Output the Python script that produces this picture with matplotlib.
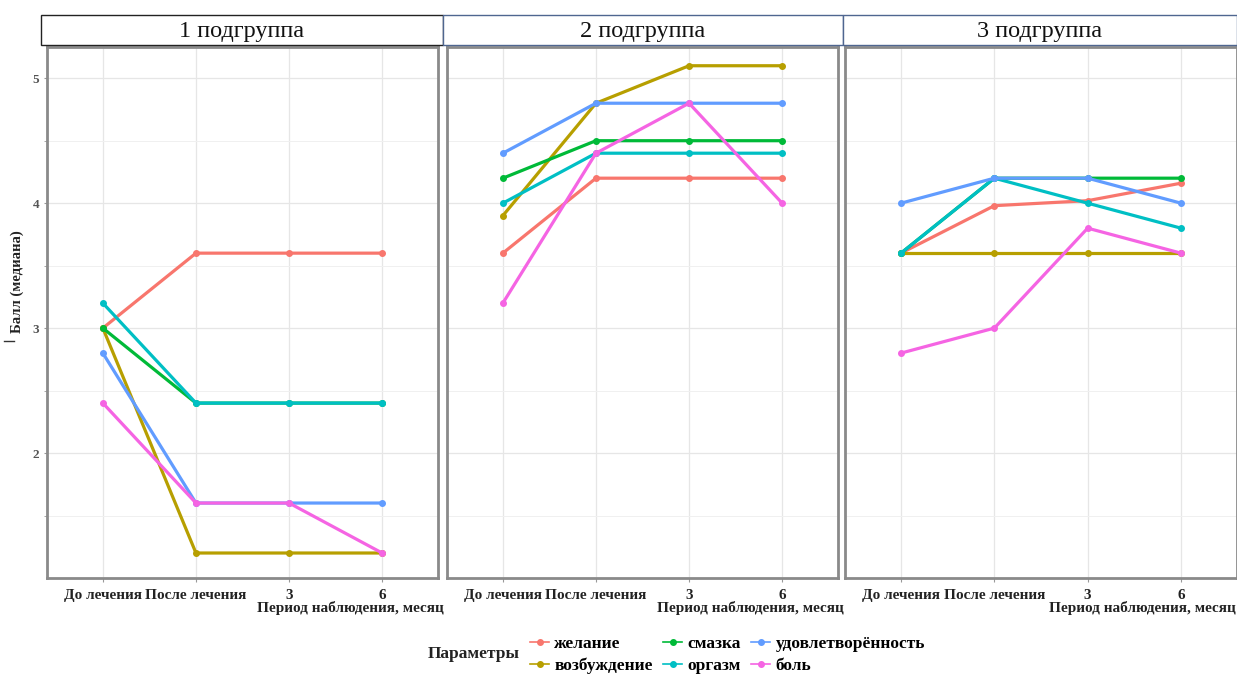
import matplotlib
matplotlib.use("Agg")
import matplotlib.pyplot as plt
from matplotlib.patches import Rectangle
from matplotlib.lines import Line2D

plt.rcParams['font.family'] = ['Liberation Serif', 'DejaVu Serif']

# Observation periods
periods = ["До лечения", "После лечения", "3", "6"]
subgroups = ["1 подгруппа", "2 подгруппа", "3 подгруппа"]
params = ["желание", "возбуждение", "смазка", "оргазм", "удовлетворённость", "боль"]
colors = ["#F8766D", "#B79F00", "#00BA38", "#00BFC4", "#619CFF", "#F564E3"]

# Median scores per subgroup, one list per parameter
g1_zhelanie = [3.0, 3.6, 3.6, 3.6]
g1_vozbuzhdenie = [3.0, 1.2, 1.2, 1.2]
g1_smazka = [3.0, 2.4, 2.4, 2.4]
g1_orgazm = [3.2, 2.4, 2.4, 2.4]
g1_udovl = [2.8, 1.6, 1.6, 1.6]
g1_bol = [2.4, 1.6, 1.6, 1.2]

g2_zhelanie = [3.6, 4.2, 4.2, 4.2]
g2_vozbuzhdenie = [3.9, 4.8, 5.1, 5.1]
g2_smazka = [4.2, 4.5, 4.5, 4.5]
g2_orgazm = [4.0, 4.4, 4.4, 4.4]
g2_udovl = [4.4, 4.8, 4.8, 4.8]
g2_bol = [3.2, 4.4, 4.8, 4.0]

g3_zhelanie = [3.6, 3.98, 4.02, 4.16]
g3_vozbuzhdenie = [3.6, 3.6, 3.6, 3.6]
g3_smazka = [3.6, 4.2, 4.2, 4.2]
g3_orgazm = [3.6, 4.2, 4.0, 3.8]
g3_udovl = [4.0, 4.2, 4.2, 4.0]
g3_bol = [2.8, 3.0, 3.8, 3.6]

groups = [
    [g1_zhelanie, g1_vozbuzhdenie, g1_smazka, g1_orgazm, g1_udovl, g1_bol],
    [g2_zhelanie, g2_vozbuzhdenie, g2_smazka, g2_orgazm, g2_udovl, g2_bol],
    [g3_zhelanie, g3_vozbuzhdenie, g3_smazka, g3_orgazm, g3_udovl, g3_bol],
]

W, H = 1237, 677
fig = plt.figure(figsize=(W / 100, H / 100), dpi=100)

def fx(px):
    return px / W

def fy(py):
    return 1 - py / H

axes_px = [(47, 438), (447, 838), (845, 1237)]
strip_px = [(41, 443), (443, 843), (843, 1237)]
top_px, bot_px = 47, 578

xs = list(range(len(periods)))
for i, (l, r) in enumerate(axes_px):
    ax = fig.add_axes([fx(l), fy(bot_px), fx(r - l), (bot_px - top_px) / H])
    for vals, c in zip(groups[i], colors):
        ax.plot(xs, vals, color=c, lw=2.3, marker="o", ms=4, zorder=3,
                solid_capstyle="round")
    ax.set_xlim(-0.6, 3.6)
    ax.set_ylim(1.0, 5.25)
    ax.set_yticks([2, 3, 4, 5])
    ax.set_yticks([1.5, 2.5, 3.5, 4.5], minor=True)
    ax.set_xticks(xs)
    ax.set_xticklabels(periods, fontsize=11, fontweight="bold", color="#222222")
    ax.grid(True, which="major", color="#e6e6e6", lw=0.9)
    ax.grid(True, which="minor", axis="y", color="#f0f0f0", lw=0.7)
    ax.set_axisbelow(True)
    ax.tick_params(axis="x", length=3, color="#999999", pad=5)
    ax.tick_params(axis="y", which="both", length=2, color="#999999")
    if i == 0:
        ax.set_yticklabels(["2", "3", "4", "5"], fontsize=9.5, fontweight="bold",
                           color="#555555")
    else:
        ax.tick_params(axis="y", which="both", labelleft=False, length=0)
    for s in ax.spines.values():
        s.set_color("#8a8a8a")
        s.set_linewidth(2.0)
    # x-axis title, right aligned under each panel
    fig.text(fx(min(r + 6, 1236)), fy(608), "Период наблюдения, месяц", ha="right",
             va="center", fontsize=11, fontweight="bold", color="#222222")

# Strip headers
for i, (l, r) in enumerate(strip_px):
    ec = "#222222" if i == 0 else "#4f6690"
    rect = Rectangle((fx(l), fy(45)), fx(r - l), (45 - 15) / H,
                     transform=fig.transFigure, facecolor="white",
                     edgecolor=ec, lw=1.0, clip_on=False)
    fig.add_artist(rect)
    fig.text(fx((l + r) / 2), fy(31), subgroups[i], ha="center", va="center",
             fontsize=17.5, color="#111111")

# y-axis title
fig.text(fx(17), fy(282), "Балл (медиана)", rotation=90, ha="center", va="center",
         fontsize=10.5, fontweight="bold", color="#222222")
fig.add_artist(Line2D([fx(4), fx(14)], [fy(341), fy(341)], color="#333333", lw=1.0,
                      transform=fig.transFigure))

# Legend
handles = [Line2D([0], [0], color=c, marker="o", ms=4, lw=1.2) for c in colors]
fig.text(fx(474), fy(654), "Параметры", ha="center", va="center", fontsize=12.5,
         fontweight="bold", color="#222222")
fig.legend(handles, params, ncol=3, loc="center left",
           bbox_to_anchor=(fx(530), fy(655)), frameon=False,
           prop={"size": 12.5, "weight": "bold"}, handlelength=1.1,
           handletextpad=0.3, columnspacing=0.6, labelspacing=0.3,
           borderaxespad=0, borderpad=0)

fig.savefig("out.png", dpi=100, facecolor="white")
